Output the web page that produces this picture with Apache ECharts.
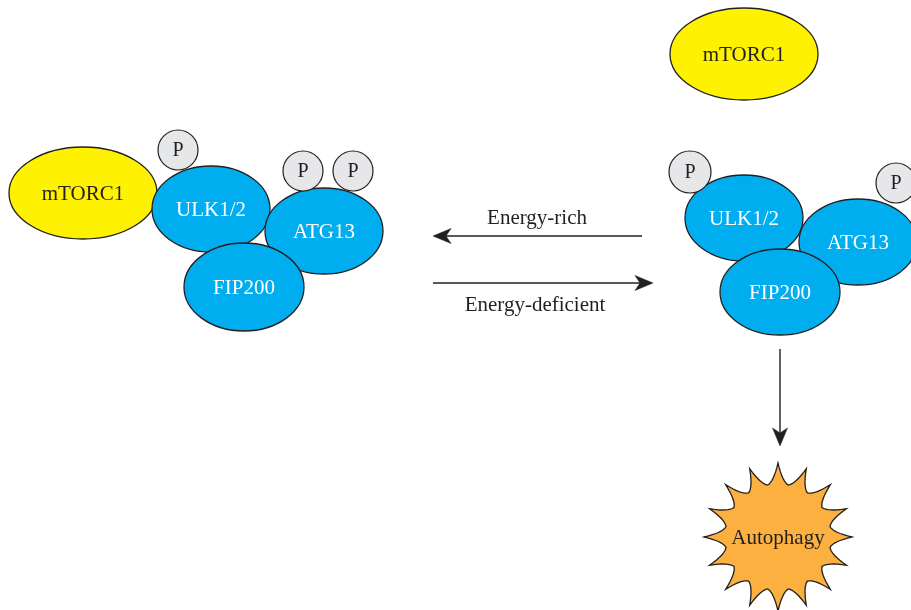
<!DOCTYPE html>
<html>
<head>
<meta charset="utf-8">
<script src="https://cdn.jsdelivr.net/npm/echarts@6/dist/echarts.min.js"></script>
<style>
html,body{margin:0;padding:0;background:#fff;}
#chart{width:911px;height:610px;}
</style>
</head>
<body>
<div id="chart"></div>
<script>
// ---- Diagram data (diagram units on hidden 0..911 x 0..610 axes) ----
const complexLabels = ['mTORC1', 'ULK1/2', 'ATG13', 'FIP200', 'mTORC1', 'ULK1/2', 'ATG13', 'FIP200'];
const complexKinds  = ['mtor', 'ulk', 'ulk', 'ulk', 'mtor', 'ulk', 'ulk', 'ulk'];
const complexX  = [83, 211, 324, 244, 744, 744, 858, 780];
const complexY  = [193, 209, 231, 287, 54, 218, 242, 292];
const complexRx = [74, 59, 59, 60, 74, 59, 59, 60];
const complexRy = [46, 43, 43, 44, 46, 43, 43, 43];

const phosphoLabels = ['P', 'P', 'P', 'P', 'P'];
const phosphoX = [178, 303, 353, 690, 896];
const phosphoY = [150, 171, 171, 172, 183];
const phosphoR = [20, 20, 20, 21, 20];

const arrowX1 = [642, 433, 780];
const arrowY1 = [236, 283, 349];
const arrowX2 = [433, 653, 780];
const arrowY2 = [236, 283, 446];

const arrowTextLabels = ['Energy-rich', 'Energy-deficient'];
const arrowTextX = [537, 535];
const arrowTextY = [218, 305];

const outcomeLabels = ['Autophagy'];
const outcomeX = [778];
const outcomeY = [537];
const outcomeOuterR = [74];
const outcomeInnerR = [53];
const outcomeSpikes = [16];

// ---- Styles ----
const INK = '#231F20';
const FONT = '"Liberation Serif", "DejaVu Serif", serif';
const kindFill = { mtor: '#FFF200', ulk: '#00AEEF' };
const kindText = { mtor: INK, ulk: '#FFFFFF' };

const chart = echarts.init(document.getElementById('chart'), null, { renderer: 'canvas' });

function renderComplex(params, api) {
  const i = api.value(4);
  const c = api.coord([api.value(0), api.value(1)]);
  const s = api.size([api.value(2), api.value(3)]);
  const kind = complexKinds[i];
  return {
    type: 'group',
    children: [
      { type: 'ellipse', shape: { cx: c[0], cy: c[1], rx: Math.abs(s[0]), ry: Math.abs(s[1]) },
        style: { fill: kindFill[kind], stroke: INK, lineWidth: 1.3 } },
      { type: 'text', x: c[0], y: c[1] + 1,
        style: { text: complexLabels[i], fill: kindText[kind], font: '21px ' + FONT, align: 'center', verticalAlign: 'middle' } }
    ]
  };
}

function renderPhospho(params, api) {
  const i = api.value(3);
  const c = api.coord([api.value(0), api.value(1)]);
  const s = api.size([api.value(2), api.value(2)]);
  return {
    type: 'group',
    children: [
      { type: 'circle', shape: { cx: c[0], cy: c[1], r: Math.abs(s[0]) },
        style: { fill: '#E6E7E8', stroke: INK, lineWidth: 1.2 } },
      { type: 'text', x: c[0], y: c[1] + 1,
        style: { text: phosphoLabels[i], fill: INK, font: '20px ' + FONT, align: 'center', verticalAlign: 'middle' } }
    ]
  };
}

function renderArrow(params, api) {
  const p1 = api.coord([api.value(0), api.value(1)]);
  const p2 = api.coord([api.value(2), api.value(3)]);
  const dx = p2[0] - p1[0], dy = p2[1] - p1[1];
  const len = Math.sqrt(dx * dx + dy * dy);
  const ux = dx / len, uy = dy / len;
  const nx = -uy, ny = ux;
  const L = 18, W = 7.5, N = 13;
  const tip = p2;
  const back = [tip[0] - ux * L, tip[1] - uy * L];
  const notch = [tip[0] - ux * N, tip[1] - uy * N];
  return {
    type: 'group',
    children: [
      { type: 'line', shape: { x1: p1[0], y1: p1[1], x2: notch[0], y2: notch[1] },
        style: { stroke: INK, lineWidth: 1.4 } },
      { type: 'polygon', shape: { points: [tip, [back[0] + nx * W, back[1] + ny * W], notch, [back[0] - nx * W, back[1] - ny * W]] },
        style: { fill: INK, stroke: INK, lineWidth: 0.5 } }
    ]
  };
}

function renderArrowText(params, api) {
  const i = api.value(2);
  const c = api.coord([api.value(0), api.value(1)]);
  return { type: 'text', x: c[0], y: c[1],
    style: { text: arrowTextLabels[i], fill: INK, font: '21px ' + FONT, align: 'center', verticalAlign: 'middle' } };
}

function renderOutcome(params, api) {
  const i = api.value(5);
  const c = api.coord([api.value(0), api.value(1)]);
  const ro = Math.abs(api.size([api.value(2), 0])[0]);
  const ri = Math.abs(api.size([api.value(3), 0])[0]);
  const n = api.value(4);
  const pts = [];
  const step = Math.PI * 2 / n;
  const pt = (r, a) => [c[0] + r * Math.cos(a), c[1] + r * Math.sin(a)];
  const seg = (p0, ctl, p1, m) => {
    for (let t = 0; t < m; t++) {
      const u = t / m;
      pts.push([(1 - u) * (1 - u) * p0[0] + 2 * (1 - u) * u * ctl[0] + u * u * p1[0],
                (1 - u) * (1 - u) * p0[1] + 2 * (1 - u) * u * ctl[1] + u * u * p1[1]]);
    }
  };
  for (let k = 0; k < n; k++) {
    const a0 = -Math.PI / 2 + k * step;
    const aV = a0 + step / 2;
    const a1 = a0 + step;
    const tip0 = pt(ro, a0);
    const val = pt(ri, aV);
    const tip1 = pt(ro, a1);
    // concave edges with rounded valleys
    const rm = (ro + ri) / 2 - 8;
    seg(tip0, pt(rm, a0 + step * 0.2), val, 8);
    seg(val, pt(rm, a1 - step * 0.2), tip1, 8);
  }
  return {
    type: 'group',
    children: [
      { type: 'polygon', shape: { points: pts }, style: { fill: '#FBB040', stroke: INK, lineWidth: 1.3 } },
      { type: 'text', x: c[0], y: c[1] + 1,
        style: { text: outcomeLabels[i], fill: INK, font: '21px ' + FONT, align: 'center', verticalAlign: 'middle' } }
    ]
  };
}

chart.setOption({
  animation: false,
  backgroundColor: '#ffffff',
  grid: { left: 0, right: 0, top: 0, bottom: 0 },
  xAxis: { type: 'value', min: 0, max: 911, show: false },
  yAxis: { type: 'value', min: 0, max: 610, inverse: true, show: false },
  series: [
    { type: 'custom', name: 'arrows', clip: false, z: 2, renderItem: renderArrow,
      data: arrowX1.map((x, i) => [x, arrowY1[i], arrowX2[i], arrowY2[i]]) },
    { type: 'custom', name: 'arrowText', clip: false, z: 2, renderItem: renderArrowText,
      data: arrowTextX.map((x, i) => [x, arrowTextY[i], i]) },
    { type: 'custom', name: 'complexes', clip: false, z: 3, renderItem: renderComplex,
      data: complexX.map((x, i) => [x, complexY[i], complexRx[i], complexRy[i], i]) },
    { type: 'custom', name: 'phospho', clip: false, z: 4, renderItem: renderPhospho,
      data: phosphoX.map((x, i) => [x, phosphoY[i], phosphoR[i], i]) },
    { type: 'custom', name: 'outcome', clip: false, z: 3, renderItem: renderOutcome,
      data: outcomeX.map((x, i) => [x, outcomeY[i], outcomeOuterR[i], outcomeInnerR[i], outcomeSpikes[i], i]) }
  ]
});
</script>
</body>
</html>
